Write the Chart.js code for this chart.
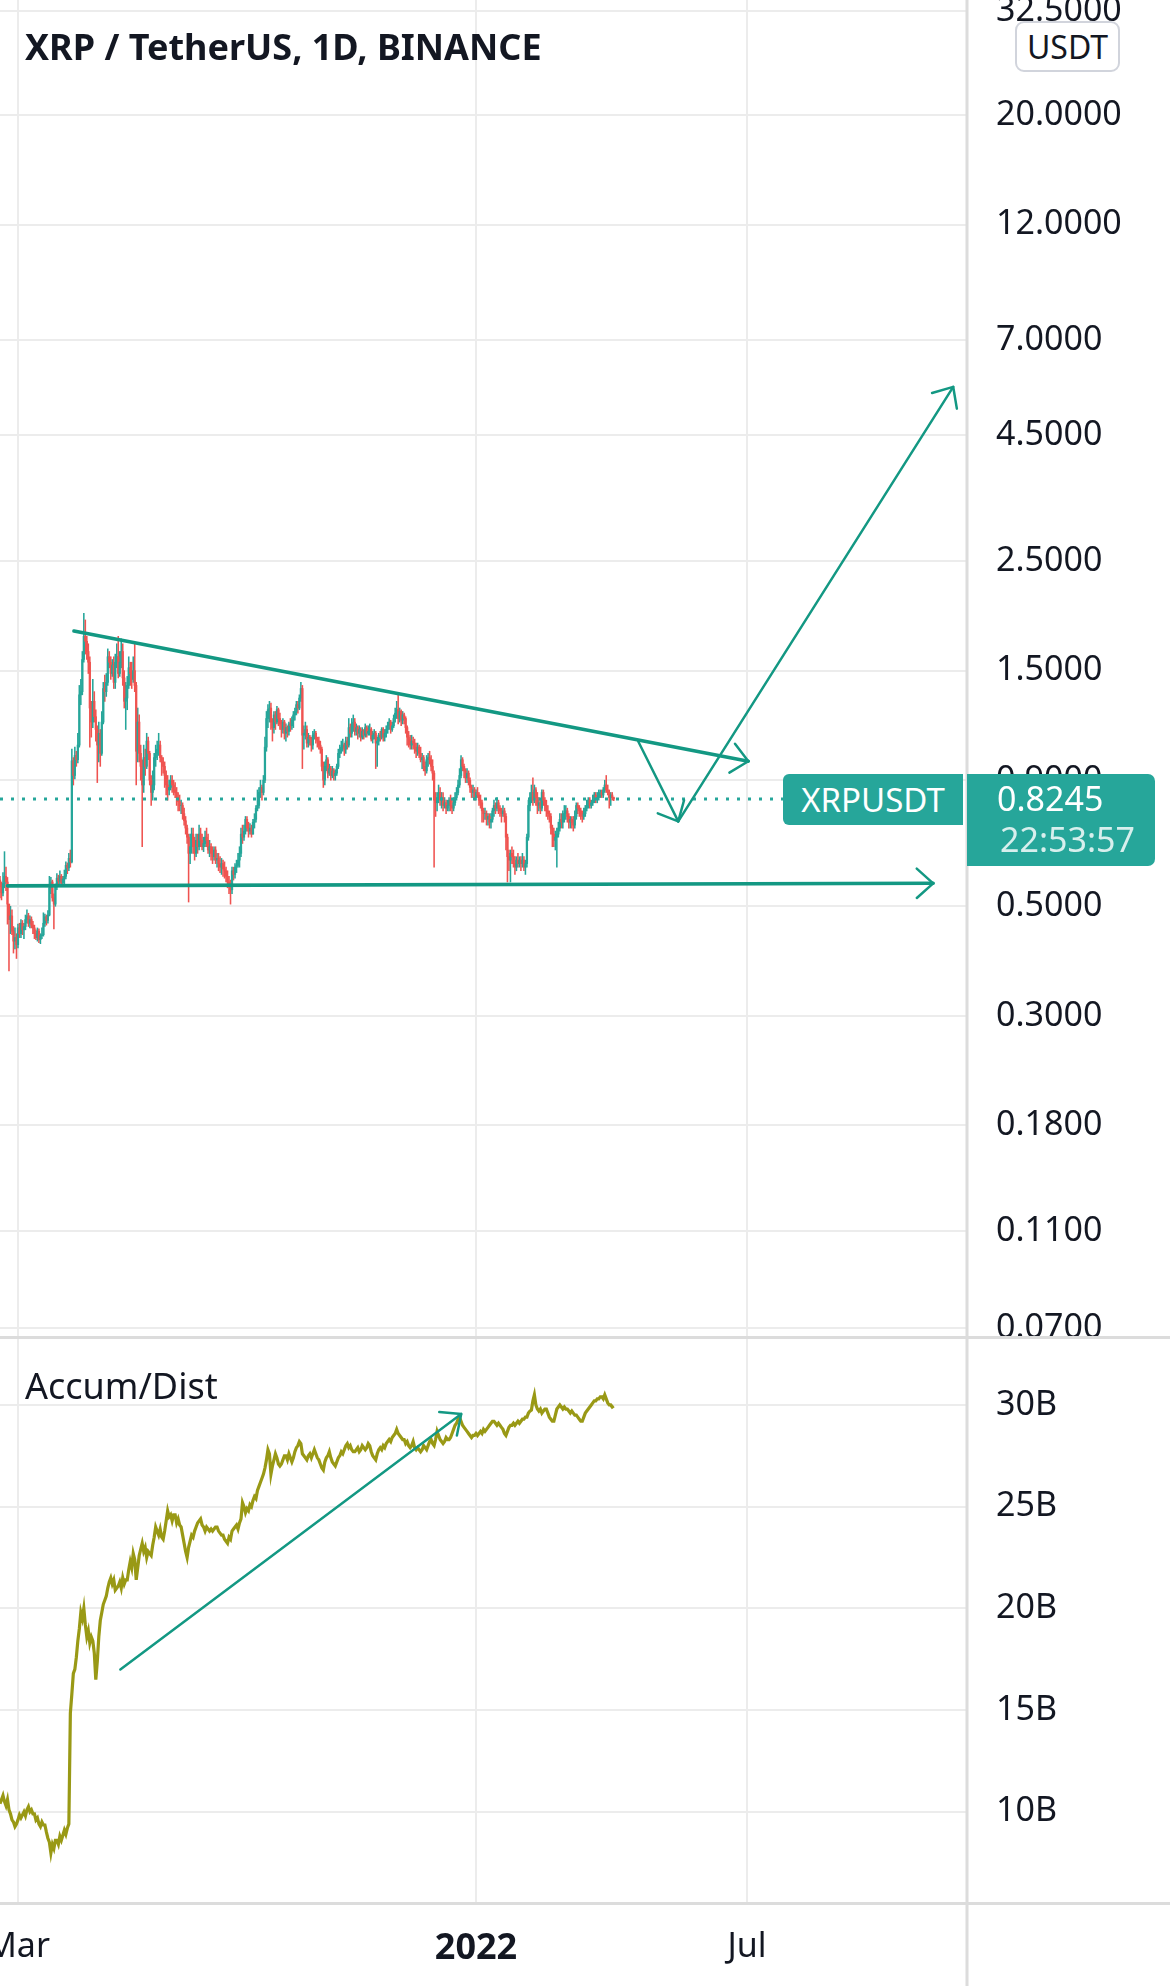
<!DOCTYPE html>
<html>
<head>
<meta charset="utf-8">
<title>XRP / TetherUS, 1D, BINANCE</title>
<script src="https://cdn.jsdelivr.net/npm/chart.js@4.4.1/dist/chart.umd.min.js"></script>
<style>
  html, body { margin: 0; padding: 0; background: #fff; }
  body { width: 1170px; height: 1986px; position: relative; overflow: hidden; font-family: 'Noto Sans', sans-serif; color: #131722; }
  canvas { position: absolute; left: 0; display: block; }
  #price { top: 0; }
  #accum { top: 1336px; }
  .txt { position: absolute; white-space: nowrap; line-height: 1; }
  #title { left: 25px; top: 29px; font-size: 36px; font-weight: 700; }
  #adTitle { left: 25px; top: 1368px; font-size: 36px; }
  #currency { left: 1015px; top: 21px; width: 101px; height: 47px; border: 2px solid #d1d4dc; border-radius: 9px; background: #fff; font-size: 32px; text-align: center; line-height: 47px; }
  #symTag { left: 783px; top: 775px; width: 180px; height: 51px; background: #26a69a; color: #fff; border-radius: 6px 0 0 6px; font-size: 33px; text-align: center; line-height: 51px; }
  #priceTag { left: 967px; top: 775px; width: 188px; height: 92px; background: #26a69a; color: #fff; border-radius: 0 7px 7px 0; font-size: 34px; box-sizing: border-box; padding: 4px 0 0 30px; }
  #priceTag div { line-height: 41px; }
  #priceTag .timer { color: rgba(255,255,255,0.82); padding-left: 3px; }
</style>
</head>
<body>
<canvas id="price" width="1170" height="1336"></canvas>
<canvas id="accum" width="1170" height="650"></canvas>
<div class="txt" id="title">XRP / TetherUS, 1D, BINANCE</div>
<div class="txt" id="adTitle">Accum/Dist</div>
<div class="txt" id="currency">USDT</div>
<div class="txt" id="symTag">XRPUSDT</div>
<div class="txt" id="priceTag"><div id="lastPrice"></div><div class="timer">22:53:57</div></div>
<script>
// daily candles, day 0 = 17 Feb 2021
const firstOpen = 0.565;
const closes = [
  0.548, 0.532, 0.556, 0.575, 0.560, 0.505, 0.470, 0.478, 0.445, 0.425,
  0.432, 0.418, 0.452, 0.440, 0.462, 0.448, 0.455, 0.470, 0.478, 0.462,
  0.470, 0.458, 0.452, 0.440, 0.432, 0.445, 0.428, 0.436, 0.438, 0.462,
  0.476, 0.468, 0.480, 0.545, 0.560, 0.520, 0.505, 0.548, 0.570, 0.562,
  0.575, 0.558, 0.568, 0.575, 0.605, 0.598, 0.625, 0.615, 0.985, 0.920,
  1.010, 0.990, 1.060, 1.340, 1.360, 1.580, 1.760, 1.720, 1.640, 1.560,
  1.260, 1.180, 1.300, 1.210, 1.140, 1.060, 1.120, 1.020, 1.180, 1.380,
  1.360, 1.420, 1.600, 1.560, 1.480, 1.540, 1.420, 1.560, 1.600, 1.480,
  1.560, 1.640, 1.450, 1.300, 1.320, 1.400, 1.520, 1.480, 1.440, 1.500,
  1.400, 1.030, 1.180, 1.020, 0.960, 0.880, 1.000, 0.960, 1.080, 1.020,
  0.900, 0.850, 0.880, 1.000, 1.020, 1.040, 1.060, 1.000, 0.980, 0.960,
  0.920, 0.880, 0.860, 0.870, 0.900, 0.880, 0.860, 0.850, 0.830, 0.815,
  0.800, 0.800, 0.770, 0.745, 0.720, 0.690, 0.640, 0.660, 0.700, 0.660,
  0.640, 0.680, 0.660, 0.700, 0.680, 0.660, 0.670, 0.690, 0.680, 0.650,
  0.660, 0.640, 0.630, 0.650, 0.620, 0.625, 0.610, 0.600, 0.610, 0.595,
  0.590, 0.575, 0.560, 0.550, 0.540, 0.590, 0.580, 0.600, 0.605, 0.620,
  0.640, 0.700, 0.690, 0.710, 0.750, 0.720, 0.710, 0.720, 0.700, 0.740,
  0.750, 0.790, 0.800, 0.850, 0.870, 0.850, 0.900, 1.050, 1.200, 1.250,
  1.260, 1.180, 1.150, 1.220, 1.180, 1.250, 1.200, 1.170, 1.140, 1.180,
  1.120, 1.150, 1.130, 1.170, 1.160, 1.190, 1.220, 1.240, 1.280, 1.260,
  1.320, 1.380, 1.110, 1.120, 1.140, 1.070, 1.100, 1.090, 1.060, 1.110,
  1.120, 1.090, 1.080, 1.060, 1.040, 0.960, 0.900, 0.960, 0.990, 0.930,
  0.950, 0.920, 0.940, 0.920, 0.930, 0.960, 1.020, 1.040, 1.050, 1.060,
  1.040, 1.080, 1.060, 1.150, 1.120, 1.160, 1.180, 1.130, 1.150, 1.120,
  1.140, 1.100, 1.130, 1.110, 1.150, 1.120, 1.130, 1.140, 1.090, 1.110,
  1.120, 1.070, 1.080, 1.110, 1.100, 1.140, 1.100, 1.120, 1.140, 1.160,
  1.180, 1.140, 1.160, 1.200, 1.230, 1.250, 1.200, 1.240, 1.190, 1.220,
  1.200, 1.150, 1.100, 1.090, 1.060, 1.080, 1.070, 1.050, 1.030, 1.050,
  1.020, 0.990, 1.000, 0.960, 0.940, 0.990, 1.000, 0.990, 0.960, 0.930,
  0.820, 0.810, 0.830, 0.850, 0.820, 0.830, 0.800, 0.810, 0.790, 0.800,
  0.820, 0.800, 0.790, 0.810, 0.830, 0.850, 0.880, 0.920, 0.990, 0.960,
  0.940, 0.910, 0.930, 0.900, 0.870, 0.850, 0.860, 0.830, 0.850, 0.840,
  0.820, 0.810, 0.780, 0.770, 0.770, 0.750, 0.760, 0.740, 0.750, 0.780,
  0.800, 0.790, 0.810, 0.790, 0.780, 0.770, 0.780, 0.760, 0.690, 0.630,
  0.620, 0.640, 0.630, 0.610, 0.600, 0.620, 0.610, 0.620, 0.610, 0.620,
  0.600, 0.610, 0.690, 0.800, 0.830, 0.850, 0.820, 0.860, 0.830, 0.800,
  0.810, 0.790, 0.850, 0.820, 0.800, 0.780, 0.770, 0.760, 0.720, 0.700,
  0.680, 0.690, 0.700, 0.720, 0.750, 0.740, 0.770, 0.770, 0.780, 0.760,
  0.740, 0.750, 0.740, 0.730, 0.760, 0.800, 0.790, 0.780, 0.770, 0.760,
  0.770, 0.790, 0.800, 0.820, 0.800, 0.810, 0.820, 0.840, 0.830, 0.830,
  0.840, 0.850, 0.840, 0.860, 0.880, 0.860, 0.850, 0.830, 0.840, 0.830,
  0.8245
];
const highs = [
  0.575, 0.560, 0.585, 0.645, 0.600, 0.572, 0.505, 0.500, 0.492, 0.455,
  0.452, 0.440, 0.460, 0.462, 0.470, 0.468, 0.462, 0.480, 0.492, 0.484,
  0.478, 0.476, 0.466, 0.458, 0.448, 0.452, 0.450, 0.440, 0.452, 0.485,
  0.482, 0.480, 0.490, 0.575, 0.572, 0.565, 0.530, 0.555, 0.582, 0.578,
  0.590, 0.580, 0.575, 0.592, 0.615, 0.612, 0.640, 0.650, 1.040, 1.000,
  1.050, 1.030, 1.120, 1.400, 1.440, 1.640, 1.960, 1.900, 1.760, 1.700,
  1.600, 1.300, 1.440, 1.360, 1.250, 1.160, 1.180, 1.140, 1.240, 1.420,
  1.470, 1.480, 1.660, 1.640, 1.600, 1.580, 1.600, 1.620, 1.700, 1.760,
  1.640, 1.740, 1.700, 1.500, 1.420, 1.460, 1.600, 1.560, 1.560, 1.600,
  1.700, 1.420, 1.260, 1.220, 1.060, 0.990, 1.060, 1.040, 1.120, 1.100,
  1.030, 0.920, 0.940, 1.020, 1.060, 1.080, 1.120, 1.080, 1.010, 1.000,
  0.980, 0.940, 0.920, 0.900, 0.920, 0.920, 0.900, 0.890, 0.870, 0.850,
  0.840, 0.820, 0.810, 0.790, 0.760, 0.730, 0.700, 0.700, 0.720, 0.720,
  0.690, 0.700, 0.700, 0.730, 0.720, 0.700, 0.690, 0.710, 0.720, 0.700,
  0.680, 0.670, 0.660, 0.660, 0.660, 0.640, 0.640, 0.630, 0.625, 0.620,
  0.615, 0.600, 0.590, 0.575, 0.565, 0.600, 0.600, 0.610, 0.620, 0.640,
  0.660, 0.720, 0.730, 0.730, 0.760, 0.760, 0.740, 0.735, 0.730, 0.750,
  0.770, 0.800, 0.860, 0.870, 0.900, 0.880, 0.920, 1.100, 1.240, 1.280,
  1.300, 1.290, 1.200, 1.240, 1.240, 1.270, 1.260, 1.230, 1.190, 1.200,
  1.190, 1.170, 1.160, 1.180, 1.200, 1.210, 1.240, 1.260, 1.300, 1.300,
  1.340, 1.420, 1.400, 1.160, 1.180, 1.160, 1.120, 1.110, 1.100, 1.130,
  1.140, 1.130, 1.100, 1.100, 1.080, 1.050, 0.980, 0.980, 1.010, 1.000,
  0.970, 0.960, 0.960, 0.950, 0.945, 0.970, 1.040, 1.060, 1.080, 1.090,
  1.070, 1.100, 1.100, 1.200, 1.170, 1.200, 1.220, 1.200, 1.170, 1.160,
  1.160, 1.150, 1.150, 1.140, 1.170, 1.160, 1.160, 1.170, 1.150, 1.130,
  1.140, 1.130, 1.100, 1.120, 1.130, 1.150, 1.150, 1.140, 1.160, 1.180,
  1.200, 1.190, 1.180, 1.220, 1.260, 1.300, 1.350, 1.260, 1.250, 1.240,
  1.230, 1.210, 1.160, 1.130, 1.110, 1.110, 1.100, 1.090, 1.070, 1.070,
  1.060, 1.050, 1.020, 1.010, 0.980, 1.010, 1.020, 1.030, 1.010, 0.990,
  0.940, 0.850, 0.850, 0.880, 0.870, 0.850, 0.850, 0.830, 0.820, 0.820,
  0.830, 0.840, 0.820, 0.830, 0.850, 0.870, 0.900, 0.950, 1.010, 1.000,
  0.970, 0.950, 0.950, 0.940, 0.910, 0.880, 0.880, 0.870, 0.860, 0.870,
  0.850, 0.840, 0.820, 0.790, 0.790, 0.780, 0.770, 0.770, 0.770, 0.790,
  0.820, 0.810, 0.830, 0.820, 0.800, 0.790, 0.800, 0.790, 0.770, 0.700,
  0.650, 0.650, 0.660, 0.650, 0.630, 0.630, 0.640, 0.630, 0.630, 0.640,
  0.630, 0.620, 0.700, 0.820, 0.850, 0.880, 0.910, 0.880, 0.870, 0.850,
  0.830, 0.820, 0.860, 0.860, 0.830, 0.820, 0.800, 0.780, 0.770, 0.730,
  0.720, 0.710, 0.720, 0.740, 0.770, 0.770, 0.780, 0.800, 0.800, 0.790,
  0.770, 0.760, 0.760, 0.760, 0.780, 0.810, 0.810, 0.800, 0.790, 0.780,
  0.790, 0.800, 0.820, 0.830, 0.830, 0.820, 0.840, 0.850, 0.850, 0.850,
  0.860, 0.860, 0.860, 0.870, 0.900, 0.920, 0.880, 0.860, 0.850, 0.850,
  0.832
];
const lows = [
  0.520, 0.515, 0.525, 0.545, 0.538, 0.460, 0.370, 0.440, 0.438, 0.402,
  0.410, 0.392, 0.412, 0.432, 0.432, 0.438, 0.430, 0.448, 0.462, 0.455,
  0.452, 0.452, 0.440, 0.430, 0.428, 0.425, 0.422, 0.420, 0.430, 0.435,
  0.455, 0.458, 0.462, 0.478, 0.530, 0.512, 0.450, 0.500, 0.540, 0.548,
  0.552, 0.550, 0.548, 0.555, 0.568, 0.582, 0.590, 0.600, 0.612, 0.880,
  0.905, 0.960, 0.975, 1.050, 1.280, 1.340, 1.560, 1.620, 1.580, 1.480,
  1.050, 1.100, 1.150, 1.180, 1.080, 0.890, 0.980, 0.960, 1.010, 1.170,
  1.300, 1.330, 1.400, 1.520, 1.440, 1.460, 1.380, 1.380, 1.520, 1.450,
  1.460, 1.520, 1.400, 1.260, 1.140, 1.250, 1.380, 1.400, 1.380, 1.420,
  1.360, 0.880, 0.980, 0.980, 0.900, 0.660, 0.850, 0.920, 0.950, 0.990,
  0.880, 0.800, 0.820, 0.860, 0.960, 0.990, 1.010, 0.980, 0.920, 0.930,
  0.870, 0.840, 0.820, 0.840, 0.860, 0.850, 0.840, 0.830, 0.800, 0.780,
  0.780, 0.770, 0.750, 0.730, 0.700, 0.670, 0.510, 0.610, 0.640, 0.640,
  0.620, 0.630, 0.640, 0.650, 0.660, 0.650, 0.645, 0.660, 0.660, 0.640,
  0.630, 0.620, 0.610, 0.620, 0.610, 0.600, 0.590, 0.585, 0.580, 0.575,
  0.570, 0.560, 0.545, 0.530, 0.505, 0.530, 0.565, 0.570, 0.585, 0.600,
  0.600, 0.630, 0.670, 0.680, 0.700, 0.710, 0.690, 0.700, 0.690, 0.700,
  0.720, 0.740, 0.780, 0.790, 0.830, 0.820, 0.840, 0.890, 1.030, 1.150,
  1.180, 1.140, 1.080, 1.120, 1.140, 1.170, 1.160, 1.140, 1.100, 1.120,
  1.090, 1.080, 1.100, 1.110, 1.130, 1.140, 1.150, 1.190, 1.220, 1.230,
  1.250, 1.300, 0.950, 1.040, 1.090, 1.050, 1.050, 1.060, 1.030, 1.040,
  1.090, 1.070, 1.050, 1.040, 1.020, 0.940, 0.870, 0.880, 0.940, 0.910,
  0.920, 0.900, 0.910, 0.900, 0.900, 0.920, 0.950, 1.000, 1.020, 1.030,
  1.010, 1.020, 1.040, 1.050, 1.100, 1.100, 1.130, 1.110, 1.110, 1.090,
  1.100, 1.080, 1.090, 1.090, 1.100, 1.100, 1.110, 1.110, 1.080, 1.070,
  1.090, 0.950, 0.960, 1.060, 1.080, 1.090, 1.080, 1.080, 1.100, 1.120,
  1.140, 1.120, 1.130, 1.150, 1.180, 1.200, 1.170, 1.180, 1.160, 1.170,
  1.170, 1.120, 1.060, 1.050, 1.040, 1.040, 1.040, 1.020, 1.000, 1.010,
  1.000, 0.980, 0.950, 0.940, 0.920, 0.930, 0.960, 0.970, 0.940, 0.900,
  0.600, 0.760, 0.780, 0.810, 0.800, 0.790, 0.780, 0.790, 0.770, 0.780,
  0.780, 0.780, 0.770, 0.780, 0.800, 0.820, 0.840, 0.870, 0.910, 0.940,
  0.910, 0.890, 0.890, 0.880, 0.850, 0.830, 0.830, 0.820, 0.820, 0.830,
  0.800, 0.790, 0.740, 0.740, 0.750, 0.730, 0.730, 0.720, 0.720, 0.740,
  0.760, 0.770, 0.780, 0.770, 0.760, 0.740, 0.760, 0.740, 0.650, 0.560,
  0.590, 0.560, 0.610, 0.600, 0.580, 0.590, 0.600, 0.600, 0.590, 0.600,
  0.590, 0.580, 0.600, 0.680, 0.780, 0.810, 0.800, 0.810, 0.800, 0.770,
  0.780, 0.770, 0.780, 0.800, 0.780, 0.760, 0.750, 0.740, 0.700, 0.660,
  0.660, 0.650, 0.600, 0.690, 0.710, 0.720, 0.720, 0.740, 0.750, 0.740,
  0.720, 0.720, 0.720, 0.710, 0.720, 0.750, 0.770, 0.760, 0.750, 0.740,
  0.750, 0.760, 0.780, 0.790, 0.790, 0.790, 0.800, 0.810, 0.810, 0.810,
  0.820, 0.830, 0.830, 0.830, 0.850, 0.850, 0.840, 0.790, 0.800, 0.820,
  0.818
];
// Accumulation/Distribution, billions
const accumDist = [
  10.4, 10.6, 10.8, 10.5, 10.3, 10.6, 10.1, 9.9, 9.6, 9.5,
  9.27, 9.4, 9.6, 9.85, 9.7, 9.85, 10.0, 9.8, 10.1, 10.25,
  10.0, 10.1, 9.9, 9.9, 9.6, 9.7, 9.4, 9.27, 9.5, 9.35,
  9.35, 9.0, 8.7, 8.5, 7.97, 8.4, 8.2, 8.6, 8.6, 8.4,
  8.8, 8.6, 8.85, 9.1, 8.9, 9.2, 9.4, 14.85, 15.8, 16.8,
  17.0, 17.6, 18.4, 19.0, 19.8, 19.5, 20.0, 19.2, 18.6, 18.9,
  18.3, 18.6, 18.4, 17.8, 16.5, 17.4, 18.6, 19.4, 19.8, 20.2,
  20.4, 20.6, 21.0, 21.3, 21.5, 21.2, 21.4, 20.9, 21.0, 21.1,
  21.3, 21.0, 21.5, 21.2, 21.4, 21.4, 21.9, 22.3, 22.0, 22.7,
  22.4, 21.4, 22.0, 22.6, 22.9, 23.2, 22.8, 23.0, 22.5, 22.8,
  22.7, 22.6, 23.1, 23.5, 24.0, 23.8, 23.6, 23.9, 23.5, 23.4,
  23.8, 24.3, 24.8, 24.5, 24.6, 24.3, 24.6, 24.6, 24.2, 24.4,
  24.1, 24.0, 23.6, 23.2, 22.8, 22.5, 23.0, 23.3, 23.6, 23.5,
  23.8, 24.0, 24.2, 24.3, 24.4, 24.1, 24.0, 23.8, 24.0, 23.9,
  23.8, 23.9, 23.8, 23.9, 24.0, 24.0, 23.8, 23.7, 23.6, 23.6,
  23.4, 23.3, 23.2, 23.5, 23.4, 23.8, 23.9, 24.0, 24.1, 23.9,
  24.2, 24.4, 25.2, 25.0, 24.7, 24.9, 24.8, 25.1, 25.0, 25.3,
  25.5, 25.4, 25.8, 26.0, 26.2, 26.4, 26.6, 26.9, 27.3, 27.8,
  27.6, 26.6, 27.0, 27.3, 27.6, 27.4, 27.1, 27.0, 27.1, 27.3,
  27.5, 27.5, 27.3, 27.6, 27.4, 27.2, 27.4, 27.7, 27.9, 28.0,
  28.2, 28.1, 27.6, 27.5, 27.4, 27.3, 27.5, 27.6, 27.4, 27.6,
  27.8, 27.6, 27.4, 27.3, 27.1, 26.9, 26.8, 27.2, 27.4, 27.5,
  27.7, 27.4, 27.2, 27.1, 27.0, 27.2, 27.4, 27.5, 27.7, 27.6,
  27.8, 28.0, 28.1, 27.9, 28.0, 27.8, 27.7, 27.7, 27.8, 27.9,
  27.7, 27.8, 28.0, 27.9, 27.8, 27.9, 28.1, 28.0, 27.7, 27.5,
  27.4, 27.3, 27.6, 27.8, 27.9, 27.8, 28.0, 27.9, 28.1, 28.2,
  28.3, 28.2, 28.4, 28.5, 28.6, 28.8, 28.6, 28.5, 28.4, 28.3,
  28.3, 28.1, 28.2, 28.0, 27.9, 28.0, 28.2, 27.9, 27.8, 27.9,
  27.8, 27.7, 27.8, 28.0, 27.9, 27.8, 28.0, 28.2, 28.3, 28.1,
  28.0, 28.3, 28.7, 28.5, 28.3, 28.2, 28.1, 28.2, 28.4, 28.3,
  28.3, 28.4, 28.6, 28.8, 29.0, 29.1, 29.3, 29.4, 29.2, 29.0,
  28.9, 28.8, 28.7, 28.6, 28.5, 28.4, 28.5, 28.5, 28.6, 28.5,
  28.6, 28.7, 28.6, 28.8, 28.7, 28.8, 28.9, 29.0, 29.1, 29.2,
  29.2, 29.1, 29.0, 29.1, 29.0, 28.9, 28.8, 28.6, 28.5, 28.7,
  28.9, 29.0, 29.0, 29.1, 29.0, 29.1, 29.2, 29.1, 29.2, 29.3,
  29.3, 29.4, 29.4, 29.6, 29.7, 29.75, 30.2, 30.5, 30.0, 29.8,
  29.7, 29.8, 29.6, 29.7, 29.8, 29.8, 29.6, 29.4, 29.3, 29.2,
  29.2, 29.5, 29.8, 29.9, 30.0, 29.9, 29.8, 29.9, 29.8, 29.8,
  29.7, 29.6, 29.7, 29.6, 29.5, 29.5, 29.4, 29.3, 29.2, 29.2,
  29.4, 29.6, 29.7, 29.8, 29.9, 30.0, 30.1, 30.2, 30.2, 30.3,
  30.3, 30.4, 30.4, 30.3, 30.5, 30.3, 30.1, 30.0, 30.0, 29.9,
  29.95
];

// axis ticks
const priceTicks = [32.5, 20, 12, 7, 4.5, 2.5, 1.5, 0.9, 0.5, 0.3, 0.18, 0.11, 0.07];
const adTicks = [10, 15, 20, 25, 30];
const timeTickDays = [12, 318, 499];
const timeTickLabels = ['Mar', '2022', 'Jul'];

// hand drawn lines: [day, value]
const resistanceLine = [[49.4, 1.804], [499.9, 0.983]];
const supportLine = [[5, 0.550], [623.4, 0.5565]];
const dropArrow = [[426.4, 1.078], [453.1, 0.7426]];
const riseArrow = [[453.1, 0.7426], [636.8, 5.63]];
const adArrow = [[80.4, 17.0], [308.1, 29.56]];

const FONT = "'Noto Sans', sans-serif";
const TEXT = '#131722';
const GRID = '#ececec';
const EDGE = '#dcdcdc';
const UP = '#26a69a';
const DOWN = '#ef5350';
const DRAW = '#139883';
const AD_COLOR = '#999915';
const X_MAX = 646;
const AXIS_W = 203;

const lastPrice = closes[closes.length - 1];
document.getElementById('lastPrice').textContent = lastPrice.toFixed(4);

const opens = closes.map((c, i) => i === 0 ? firstOpen : closes[i - 1]);
const colors = closes.map((c, i) => c >= opens[i] ? UP : DOWN);
const bodies = closes.map((c, i) => ({ x: i, y: [opens[i], c] }));
const wicks = closes.map((c, i) => ({
  x: i, y: [Math.min(lows[i], opens[i], c), Math.max(highs[i], opens[i], c)]
}));
const toPts = (arr) => arr.map(p => ({ x: p[0], y: p[1] }));

function drawing(points, width) {
  return {
    type: 'line', data: toPts(points), borderColor: DRAW, borderWidth: width,
    pointRadius: 0, tension: 0, arrow: true, order: 0, borderCapStyle: 'round'
  };
}

const arrowHeads = {
  id: 'arrowHeads',
  afterDatasetsDraw(chart) {
    const ctx = chart.ctx;
    chart.data.datasets.forEach((ds, di) => {
      if (!ds.arrow) return;
      const pts = chart.getDatasetMeta(di).data;
      const a = pts[pts.length - 2], b = pts[pts.length - 1];
      const ang = Math.atan2(b.y - a.y, b.x - a.x);
      ctx.save();
      ctx.strokeStyle = ds.borderColor;
      ctx.lineWidth = Math.min(ds.borderWidth, 2.5);
      ctx.lineCap = 'round';
      ctx.beginPath();
      [-1, 1].forEach(s => {
        ctx.moveTo(b.x, b.y);
        ctx.lineTo(b.x - 22 * Math.cos(ang + s * 0.73), b.y - 22 * Math.sin(ang + s * 0.73));
      });
      ctx.stroke();
      ctx.restore();
    });
  }
};

function edges(lines) {
  return {
    id: 'edges',
    afterDraw(chart) {
      const ctx = chart.ctx;
      ctx.save();
      ctx.fillStyle = EDGE;
      lines(chart).forEach(r => ctx.fillRect(r[0], r[1], r[2], r[3]));
      ctx.restore();
    }
  };
}

const tags = {
  id: 'tags',
  afterRender(chart) {
    const y = chart.scales.y.getPixelForValue(lastPrice);
    document.getElementById('symTag').style.top = Math.round(y - 25) + 'px';
    document.getElementById('priceTag').style.top = Math.round(y - 25) + 'px';
  }
};

const timeAxis = (showLabels) => ({
  type: 'linear', min: 0, max: X_MAX, position: 'bottom', offset: false,
  afterBuildTicks(s) { s.ticks = timeTickDays.map(v => ({ value: v })); },
  afterFit(s) { s.height = showLabels ? 83 : 0; s.paddingLeft = 0; s.paddingRight = 0; },
  ticks: {
    display: showLabels, autoSkip: false, maxRotation: 0, minRotation: 0, padding: 24, color: TEXT,
    callback: (v) => timeTickLabels[timeTickDays.indexOf(v)],
    font: (c) => (c.index === 1 ? { family: FONT, size: 36, weight: 'bold' } : { family: FONT, size: 34 })
  },
  grid: { color: GRID, lineWidth: 2, drawTicks: false, offset: false },
  border: { display: false }
});

const valueAxis = (extra) => Object.assign({
  position: 'right',
  afterFit(s) { s.width = AXIS_W; s.paddingTop = 0; s.paddingBottom = 0; },
  grid: { color: GRID, lineWidth: 2, drawTicks: false },
  border: { display: false }
}, extra);

const common = {
  responsive: false, animation: false, devicePixelRatio: 1, events: [],
  layout: { padding: 0 },
  plugins: { legend: { display: false }, tooltip: { enabled: false }, title: { display: false } }
};

new Chart(document.getElementById('price'), {
  type: 'bar',
  data: {
    datasets: [
      { data: wicks, backgroundColor: colors, barThickness: 0.9, grouped: false, order: 3 },
      { data: bodies, backgroundColor: colors, barThickness: 1.6, grouped: false, order: 2 },
      { type: 'line', data: [{ x: 0, y: lastPrice }, { x: X_MAX, y: lastPrice }], borderColor: UP,
        borderWidth: 3, borderDash: [3, 8], pointRadius: 0, order: 1 },
      drawing(resistanceLine, 3.6),
      drawing(supportLine, 3.6),
      drawing(dropArrow, 2.5),
      drawing(riseArrow, 2.5)
    ]
  },
  options: Object.assign({}, common, {
    scales: {
      x: timeAxis(false),
      y: valueAxis({
        type: 'logarithmic', min: 0.06744, max: 34.19,
        afterBuildTicks(s) { s.ticks = priceTicks.map(v => ({ value: v })); },
        ticks: { autoSkip: false, padding: 29, color: TEXT, font: { family: FONT, size: 34 },
          callback: (v) => Number(v).toFixed(4) }
      })
    }
  }),
  plugins: [arrowHeads, tags, edges(c => [[965.5, 0, 3, 1336]])]
});

new Chart(document.getElementById('accum'), {
  type: 'line',
  data: {
    datasets: [
      { data: accumDist.map((v, i) => ({ x: i, y: v })), borderColor: AD_COLOR, borderWidth: 3.2,
        pointRadius: 0, tension: 0, order: 1 },
      drawing(adArrow, 2.5)
    ]
  },
  options: Object.assign({}, common, {
    scales: {
      x: timeAxis(true),
      y: valueAxis({
        type: 'linear', min: 5.516, max: 33.39,
        afterBuildTicks(s) { s.ticks = adTicks.map(v => ({ value: v })); },
        ticks: { autoSkip: false, padding: 29, color: TEXT, font: { family: FONT, size: 34 },
          callback: (v) => v + 'B' }
      })
    }
  }),
  plugins: [arrowHeads, edges(c => [[0, 0, 1170, 3], [0, 566, 1170, 3], [965.5, 0, 3, 650]])]
});
</script>
</body>
</html>
